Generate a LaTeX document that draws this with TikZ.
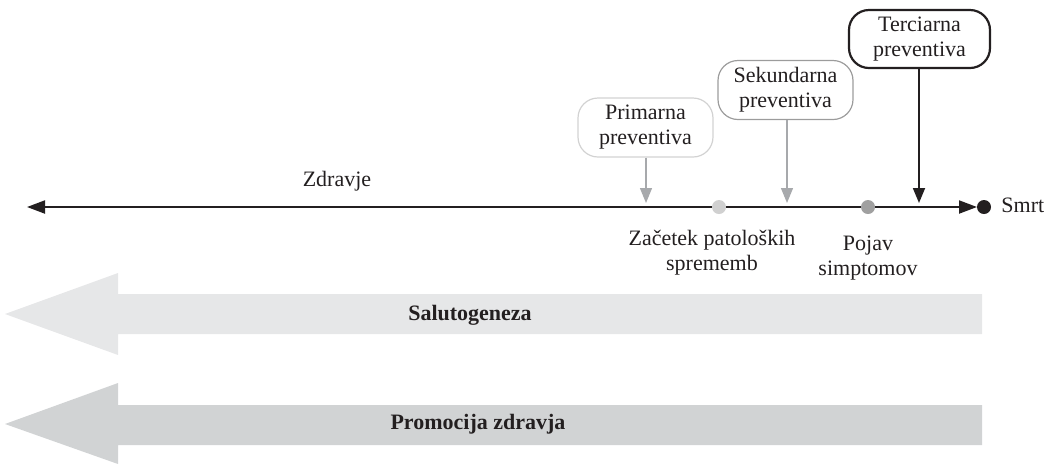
\documentclass[tikz,border=0pt]{standalone}
\usepackage{fontspec}
\setmainfont{Liberation Serif}
\usetikzlibrary{arrows.meta}
\definecolor{bandA}{HTML}{E6E7E8}
\definecolor{bandB}{HTML}{D1D3D4}
\definecolor{boxA}{HTML}{D2D2D2}
\definecolor{boxB}{HTML}{9C9C9C}
\definecolor{arrG}{HTML}{A7A9AC}
\definecolor{dotA}{HTML}{D0D0D0}
\definecolor{dotB}{HTML}{A0A0A0}
\definecolor{ink}{HTML}{231F20}
\begin{document}
\begin{tikzpicture}[x=0.5pt,y=-0.5pt,
  lbl/.style={font=\fontsize{11}{12.5}\selectfont, align=center, inner sep=0pt, text=ink},
  prevbox/.style={lbl, rounded corners=10pt, minimum width=67.5pt, minimum height=29.5pt},
  dotnode/.style={circle, inner sep=0pt, minimum size=7pt},
  mainline/.style={draw=ink, line width=1pt},
  grayarrow/.style={draw=arrG, line width=0.6pt, -{Triangle[length=7.5pt,width=6pt]}},
  blackarrow/.style={draw=ink, line width=0.9pt, -{Triangle[length=7.5pt,width=6pt]}},
  bandlbl/.style={font=\fontsize{11}{12.5}\selectfont\bfseries, inner sep=0pt, text=ink}
]
\useasboundingbox (0,0) rectangle (1046,463);

% big arrows
\fill[bandA] (982,294) -- (118,294) -- (118,273) -- (5,314) -- (118,355) -- (118,334) -- (982,334) -- cycle;
\fill[bandB] (982,405) -- (118,405) -- (118,383) -- (5,424) -- (118,464) -- (118,445) -- (982,445) -- cycle;
\node[bandlbl] (salu) at (470,315) {Salutogeneza};
\node[bandlbl] (promo) at (478,424) {Promocija zdravja};

% timeline
\coordinate (L) at (27,207);
\coordinate (R) at (977,207);
\draw[mainline, {Triangle[length=9pt,width=6.5pt]}-{Triangle[length=9pt,width=6.5pt]}] (L) -- (R);
\node[dotnode, fill=dotA] (pat) at (719,207) {};
\node[dotnode, fill=dotB] (simp) at (868,207) {};
\node[dotnode, fill=ink] (death) at (984,207) {};
\node[lbl, anchor=west] (smrt) at (1001,205) {Smrt};
\node[lbl] (zdr) at (337,181) {Zdravje};
\node[lbl] (patl) at (712,253) {Začetek patoloških\\sprememb};
\node[lbl] (simpl) at (868,258) {Pojav\\simptomov};

% prevention boxes
\node[prevbox, draw=boxA, line width=0.6pt] (prim) at (645.5,127.5) {Primarna\\preventiva};
\node[prevbox, draw=boxB, line width=0.6pt] (sek) at (785.5,90) {Sekundarna\\preventiva};
\node[prevbox, draw=ink, line width=1.1pt, minimum width=70.5pt, minimum height=29pt] (ter) at (919.5,39) {Terciarna\\preventiva};

\coordinate (pa) at (646,203);
\coordinate (sa) at (787,203);
\coordinate (ta) at (919,203);
\draw[grayarrow] (prim.south -| pa) -- (pa);
\draw[grayarrow] (sek.south -| sa) -- (sa);
\draw[blackarrow] (ter.south -| ta) -- (ta);
\end{tikzpicture}
\end{document}
